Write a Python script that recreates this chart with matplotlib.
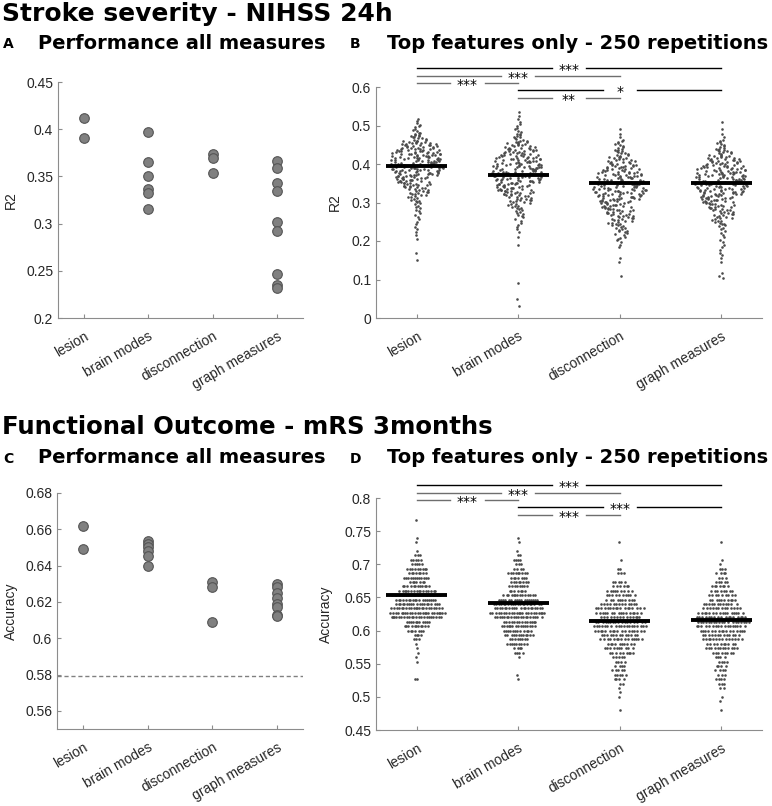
import numpy as np
import matplotlib
matplotlib.use('Agg')
import matplotlib.pyplot as plt
import matplotlib.transforms as mtransforms

# ---- data ----
categories = ['lesion', 'brain modes', 'disconnection', 'graph measures']

# A: R2, all measures
a_lesion = [0.412, 0.391]
a_brain = [0.397, 0.365, 0.350, 0.337, 0.332, 0.315]
a_disc = [0.374, 0.369, 0.354]
a_graph = [0.366, 0.359, 0.343, 0.335, 0.302, 0.292, 0.247, 0.235, 0.232]

# C: accuracy, all measures
c_lesion = [0.662, 0.649]
c_brain = [0.6535, 0.652, 0.650, 0.648, 0.6455, 0.640]
c_disc = [0.631, 0.628, 0.609]
c_graph = [0.630, 0.628, 0.625, 0.622, 0.619, 0.617, 0.613, 0.612]
c_chance = 0.579

# B: 250 repetitions, counts per 0.02 wide R2 bin (lower edges 0.00 .. 0.52)
b_bin_lo = np.round(np.arange(27) * 0.02, 2)
b_lesion = [0, 0, 0, 0, 0, 0, 0, 1, 1, 0, 2, 3, 3, 4, 6, 10, 16, 24, 30, 34, 34, 32, 26, 14, 6, 4, 0]
b_brain = [0, 1, 1, 0, 1, 0, 0, 0, 0, 1, 1, 3, 4, 7, 11, 17, 24, 28, 30, 31, 28, 24, 18, 10, 5, 3, 2]
b_disc = [0, 0, 0, 0, 0, 1, 0, 2, 0, 3, 6, 10, 14, 18, 21, 26, 30, 30, 26, 22, 17, 12, 8, 3, 1, 0, 0]
b_graph = [0, 0, 0, 0, 0, 3, 0, 2, 3, 3, 3, 5, 10, 14, 18, 24, 28, 30, 30, 27, 22, 15, 8, 3, 1, 1, 0]
b_means = [0.3956, 0.372, 0.350, 0.3515]

# D: 250 repetitions, accuracy comes in steps of 1/150; counts for k = 70 .. 115
d_k = np.arange(70, 116)
d_lesion = [0, 0, 0, 0, 0, 0, 0, 0, 0, 2, 0, 0, 0, 1, 1, 1, 1, 1, 3, 4, 7, 11, 11, 22, 24, 22, 19, 18,
            21, 16, 12, 7, 12, 8, 9, 5, 5, 3, 1, 0, 1, 1, 0, 0, 0, 1]
d_brain = [0, 0, 0, 0, 0, 0, 0, 0, 0, 1, 1, 0, 0, 0, 1, 4, 4, 9, 8, 12, 12, 15, 14, 20, 23, 20, 20, 17,
           14, 7, 8, 8, 7, 9, 4, 3, 4, 2, 1, 0, 1, 1, 0, 0, 0, 0]
d_disc = [0, 0, 1, 0, 0, 1, 1, 1, 2, 4, 5, 5, 4, 4, 5, 9, 10, 10, 15, 13, 17, 19, 17, 14, 16, 17, 13, 10,
          10, 9, 6, 5, 0, 3, 2, 0, 1, 0, 0, 0, 1, 0, 0, 0, 0, 0]
d_graph = [0, 0, 1, 0, 1, 1, 0, 2, 3, 4, 3, 4, 4, 4, 4, 8, 12, 10, 14, 13, 16, 17, 19, 17, 16, 13, 12, 10,
           9, 8, 7, 5, 3, 4, 3, 1, 1, 0, 0, 0, 1, 0, 0, 0, 0, 0]
d_means = [0.654, 0.642, 0.615, 0.616]

# significance bars: (from, to, label)
b_sig = [(1, 4, '***'), (1, 3, '***'), (1, 2, '***'), (2, 4, '*'), (2, 3, '**')]
b_sig_y = [0.649, 0.629, 0.610, 0.591, 0.572]
d_sig = [(1, 4, '***'), (1, 3, '***'), (1, 2, '***'), (2, 4, '***'), (2, 3, '***')]
d_sig_y = [0.819, 0.808, 0.797, 0.786, 0.775]
sig_col = ['black', '#6e6e6e', '#6e6e6e', 'black', '#6e6e6e']

W, H = 772, 806
fig = plt.figure(figsize=(W / 100, H / 100), dpi=100)
plt.rcParams['font.family'] = ['Liberation Sans', 'DejaVu Sans']
GOLD = 0.6180339887
xpos = np.arange(1, 5)


def add_ax(l, t, r, b):
    return fig.add_axes([l / W, 1 - b / H, (r - l) / W, (b - t) / H])


def style(ax, ylim, yticks, ylabels, ylab, labx):
    ax.set_xlim(0.6, 4.4)
    ax.set_ylim(*ylim)
    for s in ['top', 'right']:
        ax.spines[s].set_visible(False)
    for s in ['left', 'bottom']:
        ax.spines[s].set_color('#8c8c8c')
    ax.tick_params(direction='in', length=3, color='#8c8c8c', labelsize=10, labelcolor='#262626')
    ax.set_yticks(yticks, ylabels)
    ax.set_xticks(xpos, categories, rotation=30, ha='right', rotation_mode='anchor')
    ax.tick_params(axis='x', pad=8)
    ax.set_ylabel(ylab, fontsize=10, color='#262626')
    ax.yaxis.set_label_coords(labx, 0.5)


def dots(ax, groups):
    for i, g in enumerate(groups):
        ax.scatter(np.full(len(g), xpos[i]), g, s=48, facecolor='#808080',
                   edgecolor='#555555', linewidth=0.8, zorder=3)


def swarm(ax, xs, ys, dens, wmax, scramble=True):
    dens = np.asarray(dens, float)
    w = wmax * dens / dens.max()
    idx = np.arange(len(ys))
    if scramble:
        # fixed hash spread, so neighbouring points don't line up
        ph = (np.sin((idx + 1) * 12.9898) * 43758.5453) % 1.0
    else:
        ph = (idx * GOLD + 0.5) % 1.0
    ax.scatter(xs + w * (2 * ph - 1), ys, s=3.5, color='#4a4a4a', linewidth=0, zorder=3)


def sig(ax, pairs, ys, gap=0.17):
    for (a, b, lab), y, col in zip(pairs, ys, sig_col):
        m = (a + b) / 2
        ax.plot([a, m - gap], [y, y], color=col, lw=1, clip_on=False)
        ax.plot([m + gap, b], [y, y], color=col, lw=1, clip_on=False)
        ax.text(m, y, lab, ha='center', va='center', fontsize=10, clip_on=False,
                family='DejaVu Sans', transform=ax.transData + mtransforms.ScaledTranslation(0, -2 / 100, fig.dpi_scale_trans))


def mean_bars(ax, means):
    for i, m in enumerate(means):
        ax.plot([xpos[i] - 0.3, xpos[i] + 0.3], [m, m], color='black', lw=2.8, zorder=4, solid_capstyle='butt')


# ---- A ----
axA = add_ax(58, 82, 303, 318)
dots(axA, [a_lesion, a_brain, a_disc, a_graph])
style(axA, (0.2, 0.45), [0.2, 0.25, 0.3, 0.35, 0.4, 0.45],
      ['0.2', '0.25', '0.3', '0.35', '0.4', '0.45'], 'R2', -0.163)

# ---- B ----
axB = add_ax(376, 87, 762, 318)
for i, cnt in enumerate([b_lesion, b_brain, b_disc, b_graph]):
    ys = []
    cnt = np.asarray(cnt, float)
    centers = b_bin_lo + 0.01
    for lo, n in zip(b_bin_lo, cnt):
        n = int(n)
        for j in range(n):
            ys.append(lo + (j + 0.5) / n * 0.02)
    ys = np.array(ys)
    dn = np.interp(ys, centers, cnt)
    swarm(axB, xpos[i], ys, dn, 0.26)
mean_bars(axB, b_means)
sig(axB, b_sig, b_sig_y)
style(axB, (0, 0.6), [0, 0.1, 0.2, 0.3, 0.4, 0.5, 0.6],
      ['0', '0.1', '0.2', '0.3', '0.4', '0.5', '0.6'], 'R2', -0.088)

# ---- C ----
axC = add_ax(57, 493, 303, 729)
axC.axhline(c_chance, color='#808080', lw=1, ls=(0, (3, 2)))
dots(axC, [c_lesion, c_brain, c_disc, c_graph])
style(axC, (0.55, 0.68), [0.56, 0.58, 0.6, 0.62, 0.64, 0.66, 0.68],
      ['0.56', '0.58', '0.6', '0.62', '0.64', '0.66', '0.68'], 'Accuracy', -0.159)

# ---- D ----
axD = add_ax(376, 498, 762, 730)
for i, cnt in enumerate([d_lesion, d_brain, d_disc, d_graph]):
    ys, dn = [], []
    for k, n in zip(d_k, cnt):
        ys += [k / 150] * n
        dn += [n] * n
    swarm(axD, xpos[i], np.array(ys), dn, 0.28, scramble=False)
mean_bars(axD, d_means)
sig(axD, d_sig, d_sig_y)
style(axD, (0.45, 0.8), [0.45, 0.5, 0.55, 0.6, 0.65, 0.7, 0.75, 0.8],
      ['0.45', '0.5', '0.55', '0.6', '0.65', '0.7', '0.75', '0.8'], 'Accuracy', -0.111)

# ---- titles ----
def ftext(x, y, s, size, bold=True):
    fig.text(x / W, 1 - y / H, s, fontsize=size, fontweight='bold' if bold else 'normal',
             family='DejaVu Sans', va='baseline', ha='left')

ftext(2, 21, 'Stroke severity - NIHSS 24h', 18)
ftext(2, 434, 'Functional Outcome - mRS 3months', 17.6)
ftext(3, 48, 'A', 10)
ftext(350, 48, 'B', 10)
ftext(3, 463, 'C', 10)
ftext(350, 463, 'D', 10)
ftext(38, 49, 'Performance all measures', 14)
ftext(387, 49, 'Top features only - 250 repetitions', 14)
ftext(38, 463, 'Performance all measures', 14)
ftext(387, 463, 'Top features only - 250 repetitions', 14)

fig.savefig('out.png', dpi=100)
